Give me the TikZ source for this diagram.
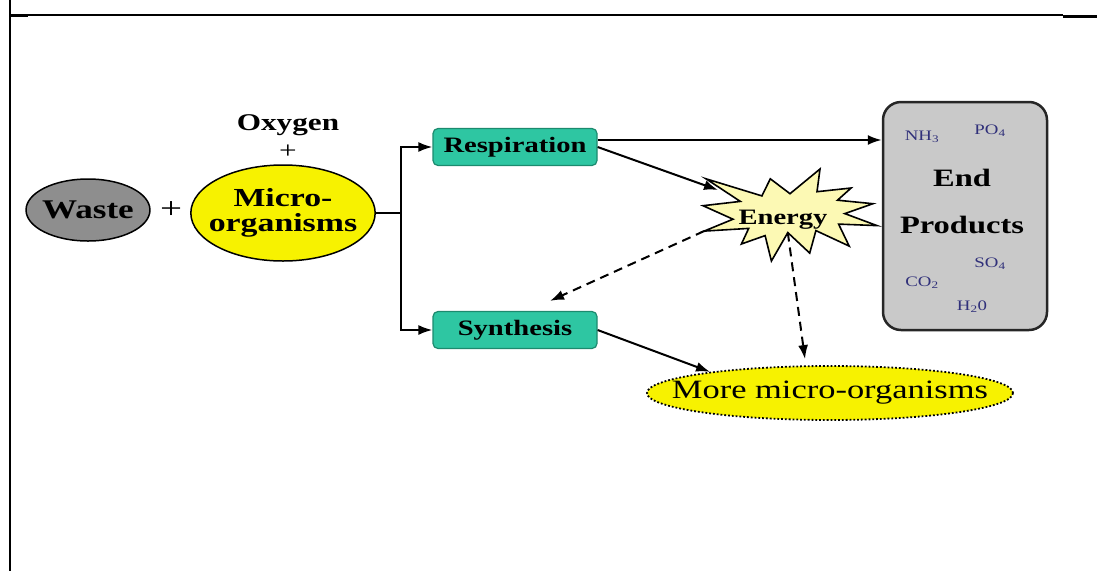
\documentclass[tikz,border=0pt]{standalone}
\usepackage{fontspec}
\setmainfont{Liberation Serif}[FakeStretch=1.3]
\usetikzlibrary{shapes.geometric,arrows.meta}
\definecolor{teal1}{HTML}{2EC6A2}
\definecolor{tealb}{HTML}{1C8A6E}
\definecolor{grayw}{HTML}{8E8E8E}
\definecolor{yel}{HTML}{F7F200}
\definecolor{staryel}{HTML}{FCF9B4}
\definecolor{boxgray}{HTML}{C9C9C9}
\definecolor{chem}{HTML}{30307A}
\begin{document}
\begin{tikzpicture}[x=1pt,y=-1pt,
 arr/.style={line width=2pt,-{Latex[length=14pt,width=10pt]}},
 darr/.style={arr,dash pattern=on 9pt off 6pt},
 procbox/.style={draw=tealb,line width=1.2pt,fill=teal1,rounded corners=5pt,minimum width=164pt,minimum height=37pt,inner sep=0pt,font=\fontsize{22}{24}\selectfont\bfseries},
 chemlbl/.style={text=chem,font=\fontsize{14.5}{15}\selectfont,inner sep=0pt},
 bigbold/.style={font=\fontsize{25}{26}\selectfont\bfseries}]
\useasboundingbox (0,0) rectangle (1097,571);
\draw[line width=2.5pt] (10,0) -- (10,571);
\draw[line width=1.5pt] (10,15) -- (1063,15);
\draw[line width=3pt] (10,15) -- (28,15);
\draw[line width=3pt] (1063,16) -- (1097,16);

\node[ellipse,draw,line width=1.5pt,fill=grayw,minimum width=120pt,minimum height=62pt,inner xsep=-2pt,inner ysep=0pt,font=\fontsize{27}{28}\selectfont\bfseries] (waste) at (88,210) {Waste};
\node[font=\fontsize{30}{30}\selectfont] (plus1) at (171,210) {+};
\node[ellipse,draw,line width=1.5pt,fill=yel,minimum width=184pt,minimum height=96pt,inner xsep=-9pt,inner ysep=0pt,align=center,font=\fontsize{26}{25}\selectfont\bfseries] (micro) at (283,213) {Micro-\\organisms};
\node[font=\fontsize{24}{24}\selectfont\bfseries] (oxy) at (288,125) {Oxygen};
\node[font=\fontsize{24}{24}\selectfont] (plus2) at (288,152) {+};

\node[procbox] (resp) at (515,147) {Respiration};
\node[procbox] (synth) at (515,330) {Synthesis};

% Energy explosion
\draw[line width=1.6pt,fill=staryel,line join=miter]
 (790.0,193.7) -- (820.0,169) -- (817.0,191.7) -- (851.1,188.0) -- (837.5,200.2)
 -- (872.9,203.7) -- (844.8,213.6) -- (877,225.6) -- (838.6,224.1) -- (849.2,246.1)
 -- (815.9,230.6) -- (809.7,253.1) -- (787.8,232.6) coordinate (sbot) -- (771.4,261) -- (765.1,235.6)
 -- (741.4,244.0) -- (748.7,228.4) -- (704.1,231.1) coordinate (sleft) -- (733.0,219.2) -- (703,205.7)
 -- (740.3,201.4) -- (706.0,178.8) -- (761.9,195.9) -- (770.3,178.8) -- cycle;
\node[font=\fontsize{22}{22}\selectfont\bfseries] (energy) at (783,220) {Energy};
\coordinate (etip) at (718,190);

\node[draw=black!85,line width=2.5pt,fill=boxgray,rounded corners=18pt,minimum width=164pt,minimum height=228pt] (endp) at (965,216) {};
\node[bigbold] (endt) at (962,178) {End};
\node[bigbold] (prod) at (962,225) {Products};
\node[chemlbl] (nh3) at (922,137) {NH\textsubscript{3}};
\node[chemlbl] (po4) at (990,131) {PO\textsubscript{4}};
\node[chemlbl] (so4) at (990,264) {SO\textsubscript{4}};
\node[chemlbl] (co2) at (922,283) {CO\textsubscript{2}};
\node[chemlbl] (h2o) at (972,307) {H\textsubscript{2}0};

\node[ellipse,draw,dotted,line width=1.8pt,fill=yel,minimum width=366pt,minimum height=54pt,inner xsep=-30pt,inner ysep=0pt,font=\fontsize{26.5}{26}\selectfont] (more) at (830,393) {More micro-organisms};

\coordinate (junc) at (401,213);
\draw[line width=2pt] (micro.east) -- (junc);
\draw[arr] (junc) |- (resp.west);
\draw[arr] (junc) |- (synth.west);
\coordinate (r1) at ([yshift=7pt]resp.east);
\draw[arr] (r1) -- (r1 -| endp.west);
\draw[arr] (resp.east) -- (etip);
\draw[darr] (sleft) -- ([xshift=35pt,yshift=10pt]synth.north);
\draw[darr] (sbot) -- ([xshift=-25pt,yshift=6pt]more.north);
\draw[arr] (synth.east) -- (more.170);
\end{tikzpicture}
\end{document}
